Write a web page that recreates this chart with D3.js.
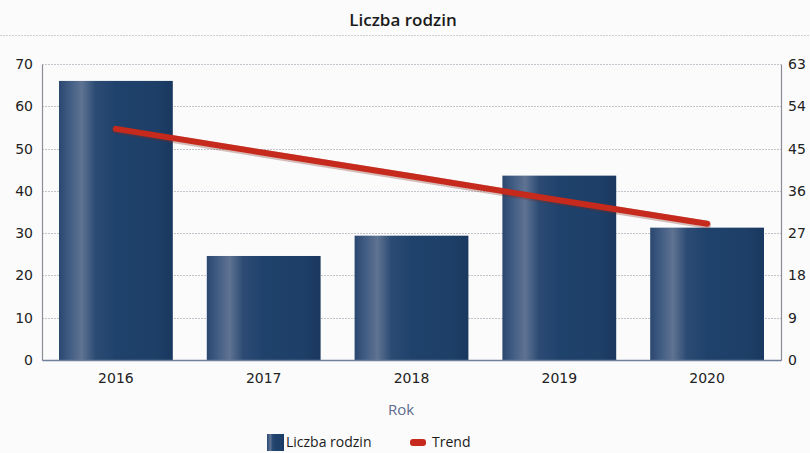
<!DOCTYPE html>
<html><head><meta charset="utf-8">
<script src="https://cdn.jsdelivr.net/npm/d3@7"></script>
<style>body{margin:0;background:#fbfbfb;}svg{display:block;}</style>
</head><body>
<script>
const categories = ["2016","2017","2018","2019","2020"];
const barValues = [66, 24.6, 29.4, 43.6, 31.3];
const trendValues = [49.2, 44.1, 39.1, 34.0, 29.0];
const leftTicks = [0,10,20,30,40,50,60,70];
const rightTicks = [0,9,18,27,36,45,54,63];
const title = "Liczba rodzin";
const xTitle = "Rok";
const legendLabels = ["Liczba rodzin","Trend"];

const W = 810, H = 453;
const m = {left:42, right:29, top:64, bottom:93};
const svg = d3.select("body").append("svg").attr("width",W).attr("height",H);
svg.append("rect").attr("width",W).attr("height",H).attr("fill","#fbfbfb");

const x = d3.scaleBand().domain(categories).range([m.left, W-m.right]).paddingInner(0.23).paddingOuter(0.115);
const yL = d3.scaleLinear().domain([0,70]).range([H-m.bottom, m.top]);
const yR = d3.scaleLinear().domain([0,63]).range([H-m.bottom, m.top]);

const defs = svg.append("defs");
const g = defs.append("linearGradient").attr("id","barg").attr("x1","0%").attr("x2","100%").attr("y1","0%").attr("y2","0%");
[[0,"#2a4770"],[0.1,"#435e84"],[0.2,"#5f7392"],[0.32,"#2c4b74"],[0.5,"#1f426c"],[0.85,"#1d3f68"],[1,"#1a3860"]].forEach(([o,c])=>g.append("stop").attr("offset",o).attr("stop-color",c));

// title
svg.append("text").attr("x",403).attr("y",26).attr("text-anchor","middle").attr("font-family","Open Sans, sans-serif").attr("font-size",17).attr("font-weight",600).attr("fill","#1a1a1a").text(title);
svg.append("line").attr("x1",0).attr("x2",W).attr("y1",35.5).attr("y2",35.5).attr("stroke","#cfcfd4").attr("stroke-dasharray","2,1");

// grid
svg.append("g").selectAll("line").data(leftTicks.filter(d=>d>0)).join("line")
  .attr("x1",m.left).attr("x2",W-m.right).attr("y1",d=>Math.round(yL(d))+0.5).attr("y2",d=>Math.round(yL(d))+0.5)
  .attr("stroke","#c4c4cc").attr("stroke-dasharray","2,1").attr("stroke-width",1);

// axes
const axL = svg.append("g").attr("transform",`translate(${m.left},0)`).call(d3.axisLeft(yL).tickValues(leftTicks).tickSize(0).tickPadding(9));
const axR = svg.append("g").attr("transform",`translate(${W-m.right},0)`).call(d3.axisRight(yR).tickValues(rightTicks).tickSize(0).tickPadding(7));
[axL,axR].forEach(a=>{a.select(".domain").attr("stroke","#8a8c98").attr("stroke-width",1.2);
  a.selectAll("text").attr("font-family","DejaVu Sans, sans-serif").attr("font-size",14).attr("fill","#222");});

// bars
svg.append("g").selectAll("rect").data(categories).join("rect")
  .attr("x",d=>x(d)).attr("width",x.bandwidth())
  .attr("y",(d,i)=>yL(barValues[i])).attr("height",(d,i)=>yL(0)-yL(barValues[i]))
  .attr("fill","url(#barg)");

// x axis
const axB = svg.append("g").attr("transform",`translate(0,${H-m.bottom})`).call(d3.axisBottom(x).tickSize(0).tickPadding(13));
axB.select(".domain").attr("stroke","#6f7f9c").attr("stroke-width",1.5);
axB.selectAll("text").attr("font-family","DejaVu Sans, sans-serif").attr("font-size",14).attr("fill","#222");

// trend
const line = d3.line().x((d,i)=>x(categories[i])+x.bandwidth()/2).y(d=>yR(d));
svg.append("path").datum(trendValues).attr("d",line).attr("fill","none").attr("stroke","#7a2a20").attr("stroke-opacity",0.3).attr("stroke-width",8).attr("stroke-linecap","round").attr("transform","translate(0,1)");
svg.append("path").datum(trendValues).attr("d",line).attr("fill","none").attr("stroke","#c62a1c").attr("stroke-width",6).attr("stroke-linecap","round");

// x title
svg.append("text").attr("x",401).attr("y",415).attr("text-anchor","middle").attr("font-family","Open Sans, sans-serif").attr("font-size",15).attr("fill","#5d6c8c").text(xTitle);

// legend
const lg = svg.append("g");
lg.append("rect").attr("x",267).attr("y",434).attr("width",17).attr("height",17).attr("fill","url(#barg)");
lg.append("text").attr("x",286).attr("y",447).attr("font-family","Open Sans, sans-serif").attr("font-size",14).attr("fill","#1a1a1a").text(legendLabels[0]);
lg.append("rect").attr("x",410).attr("y",439).attr("width",16).attr("height",7).attr("rx",3).attr("fill","#c62a1c");
lg.append("text").attr("x",432).attr("y",447).attr("font-family","Open Sans, sans-serif").attr("font-size",14).attr("fill","#1a1a1a").text(legendLabels[1]);
</script>
</body></html>
